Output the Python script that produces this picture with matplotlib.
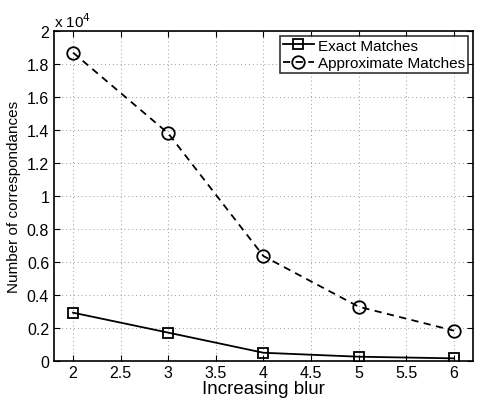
import matplotlib
matplotlib.use('Agg')
import matplotlib.pyplot as plt

plt.rcParams['font.family'] = ['Liberation Sans', 'DejaVu Sans']

# Data
blur = [2, 3, 4, 5, 6]
exact_matches = [2930, 1720, 500, 260, 160]
approx_matches = [18700, 13800, 6360, 3290, 1840]

fig = plt.figure(figsize=(4.78, 4.02), dpi=100)
ax = fig.add_axes([0.113, 0.0995, 0.8765, 0.8205])

scale = 1e4
ax.plot(blur, [v / scale for v in exact_matches], color='black', linestyle='-',
        linewidth=1.3, marker='s', markersize=7, markerfacecolor='none',
        markeredgewidth=1.3, label='Exact Matches')
ax.plot(blur, [v / scale for v in approx_matches], color='black', linestyle=(0, (4, 3)),
        linewidth=1.3, marker='o', markersize=9, markerfacecolor='none',
        markeredgewidth=1.3, label='Approximate Matches')

ax.set_xlim(1.8, 6.2)
ax.set_ylim(0, 2)
ax.set_xticks([2, 2.5, 3, 3.5, 4, 4.5, 5, 5.5, 6])
ax.set_xticklabels(['2', '2.5', '3', '3.5', '4', '4.5', '5', '5.5', '6'])
ax.set_yticks([0, 0.2, 0.4, 0.6, 0.8, 1, 1.2, 1.4, 1.6, 1.8, 2])
ax.set_yticklabels(['0', '0.2', '0.4', '0.6', '0.8', '1', '1.2', '1.4', '1.6', '1.8', '2'])
ax.tick_params(direction='in', top=True, right=True, labelsize=11.5, length=4, width=0.8)
ax.tick_params(axis='x', pad=3)

ax.grid(True, linestyle=(0, (1, 3)), color='#999999', linewidth=0.7)
for s in ax.spines.values():
    s.set_linewidth(1.2)

ax.text(0.0, 1.005, r'x 10$^4$', transform=ax.transAxes, fontsize=11, ha='left', va='bottom')

ax.set_xlabel('Increasing blur', fontsize=13.5, labelpad=0)
ax.set_ylabel('Number of correspondances', fontsize=11, labelpad=4)

leg = ax.legend(loc='upper right', fontsize=11, frameon=True, fancybox=False,
                edgecolor='black', borderpad=0.2, handlelength=2.0,
                handletextpad=0.3, labelspacing=0.2, borderaxespad=0.3)
leg.get_frame().set_linewidth(1.2)

plt.savefig('out.png', dpi=100)
